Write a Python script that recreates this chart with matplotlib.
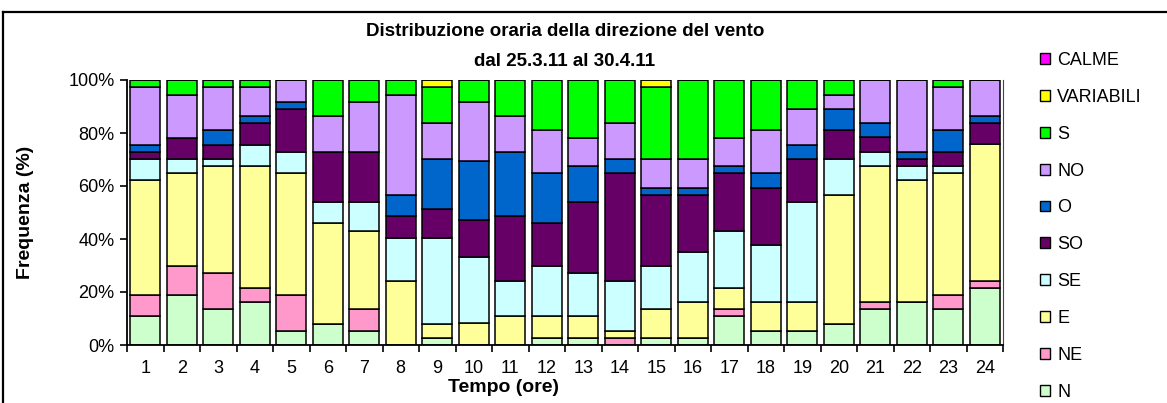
import matplotlib
matplotlib.use("Agg")
import matplotlib.pyplot as plt
from matplotlib.patches import Patch
from matplotlib.lines import Line2D
import numpy as np

plt.rcParams['font.family'] = ['Liberation Sans', 'DejaVu Sans']

hours = [str(h) for h in range(1, 25)]
series_names = ["N", "NE", "E", "SE", "SO", "O", "NO", "S", "VARIABILI", "CALME"]
colors = ["#CCFFCC", "#FF99CC", "#FFFF99", "#CCFFFF", "#660066",
          "#0066CC", "#CC99FF", "#00FF00", "#FFFF00", "#FF00FF"]

N  = [10.8, 18.9, 13.5, 16.2, 5.4, 8.1, 5.4, 0, 2.7, 0, 0, 2.7, 2.7, 0, 2.7, 2.7, 10.8, 5.4, 5.4, 8.1, 13.5, 16.2, 13.5, 21.6]
NE = [8.1, 10.8, 13.5, 5.4, 13.5, 0, 8.1, 0, 0, 0, 0, 0, 0, 2.7, 0, 0, 2.7, 0, 0, 0, 2.7, 0, 5.4, 2.7]
E  = [43.2, 35.1, 40.5, 45.9, 45.9, 37.8, 29.7, 24.3, 5.4, 8.3, 10.8, 8.1, 8.1, 2.7, 10.8, 13.5, 8.1, 10.8, 10.8, 48.6, 51.4, 45.9, 45.9, 51.4]
SE = [8.1, 5.4, 2.7, 8.1, 8.1, 8.1, 10.8, 16.2, 32.4, 25.0, 13.5, 18.9, 16.2, 18.9, 16.2, 18.9, 21.6, 21.6, 37.8, 13.5, 5.4, 5.4, 2.7, 0]
SO = [2.7, 8.1, 5.4, 8.1, 16.2, 18.9, 18.9, 8.1, 10.8, 13.9, 24.3, 16.2, 27.0, 40.5, 27.0, 21.6, 21.6, 21.6, 16.2, 10.8, 5.4, 2.7, 5.4, 8.1]
O  = [2.7, 0, 5.4, 2.7, 2.7, 0, 0, 8.1, 18.9, 22.2, 24.3, 18.9, 13.5, 5.4, 2.7, 2.7, 2.7, 5.4, 5.4, 8.1, 5.4, 2.7, 8.1, 2.7]
NO = [21.6, 16.2, 16.2, 10.8, 8.1, 13.5, 18.9, 37.8, 13.5, 22.2, 13.5, 16.2, 10.8, 13.5, 10.8, 10.8, 10.8, 16.2, 13.5, 5.4, 16.2, 27.0, 16.2, 13.5]
S  = [2.7, 5.4, 2.7, 2.7, 0, 13.5, 8.1, 5.4, 13.5, 8.3, 13.5, 18.9, 21.6, 16.2, 27.0, 29.7, 21.6, 18.9, 10.8, 5.4, 0, 0, 2.7, 0]
VARIABILI = [0, 0, 0, 0, 0, 0, 0, 0, 2.7, 0, 0, 0, 0, 0, 2.7, 0, 0, 0, 0, 0, 0, 0, 0, 0]
CALME = [0] * 24

data = [N, NE, E, SE, SO, O, NO, S, VARIABILI, CALME]

fig = plt.figure(figsize=(11.67, 4.03), dpi=100)
ax = fig.add_axes([127/1167, 58/403, 876/1167, 265/403])

x = np.arange(len(hours))
bottom = np.zeros(len(hours))
for name, vals, col in zip(series_names, data, colors):
    v = np.array(vals, dtype=float)
    ax.bar(x, v, bottom=bottom, width=0.82, color=col, edgecolor="black",
           linewidth=1.1, label=name)
    bottom += v

ax.set_xlim(-0.5, len(hours) - 0.5)
ax.set_ylim(0, 100)
ax.set_yticks(np.arange(0, 101, 20))
ax.set_yticklabels([f"{v}%" for v in range(0, 101, 20)], fontsize=13)
ax.set_xticks(x)
ax.set_xticklabels(hours, fontsize=13)
ax.set_xticks(np.arange(-0.5, len(hours), 1), minor=True)
ax.tick_params(axis="x", which="major", length=0, pad=11)
ax.tick_params(axis="x", which="minor", length=5, width=1.2, direction="out")
ax.tick_params(axis="y", length=5, width=1.2, direction="out", pad=4)

ax.spines["top"].set_visible(False)
ax.spines["left"].set_linewidth(1.3)
ax.spines["bottom"].set_linewidth(1.3)
ax.spines["right"].set_linewidth(0.8)
ax.spines["right"].set_color("#444444")

ax.set_ylabel("Frequenza (%)", fontsize=14, fontweight="bold")
ax.yaxis.set_label_coords((34 - 127) / 876, 0.5)

fig.text(565/1167, 1 - 31/403, "Distribuzione oraria della direzione del vento",
         ha="center", va="center", fontsize=13.5, fontweight="bold")
fig.text(565/1167, 1 - 61/403, "dal 25.3.11 al 30.4.11",
         ha="center", va="center", fontsize=13.5, fontweight="bold")
fig.text(503/1167, 1 - 387/403, "Tempo (ore)", ha="center", va="center",
         fontsize=14, fontweight="bold")

handles = [Patch(facecolor=c, edgecolor="black", linewidth=1.0, label=n)
           for n, c in zip(series_names, colors)][::-1]
fig.legend(handles=handles, loc="upper left",
           bbox_to_anchor=(1040/1167, 1 - 52/403), frameon=False,
           fontsize=13, handlelength=0.55, handleheight=0.55,
           handletextpad=0.4, labelspacing=1.1, borderpad=0, borderaxespad=0)

fig.add_artist(Line2D([2.5/1167, 1], [1 - 12/403, 1 - 12/403],
                      transform=fig.transFigure, color="black", linewidth=1.6))
fig.add_artist(Line2D([2.5/1167, 2.5/1167], [0, 1 - 12/403],
                      transform=fig.transFigure, color="black", linewidth=1.6))

fig.savefig("out.png", dpi=100)
